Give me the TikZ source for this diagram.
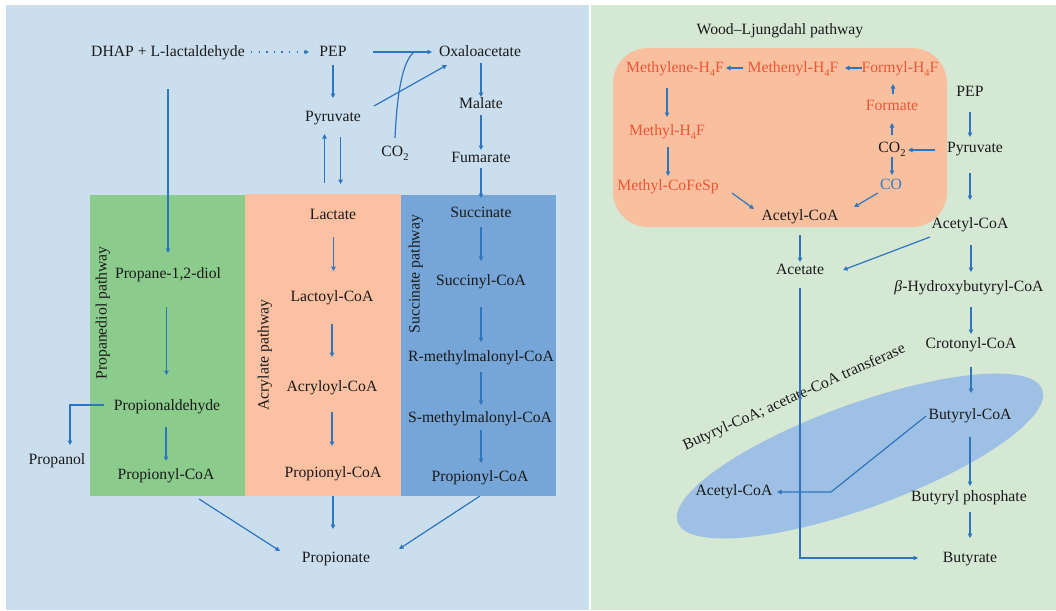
\documentclass[tikz,border=0pt]{standalone}
\usepackage{fontspec}
\setmainfont{Liberation Serif}
\usetikzlibrary{calc,arrows.meta}
\definecolor{leftbg}{HTML}{CBDEEE}
\definecolor{rightbg}{HTML}{D5E8D4}
\definecolor{greenbox}{HTML}{8BCB8C}
\definecolor{peachbox}{HTML}{FCC1A2}
\definecolor{bluebox}{HTML}{76A5D7}
\definecolor{wlbox}{HTML}{F9C0A0}
\definecolor{ellcol}{HTML}{9DC0E4}
\definecolor{arrowblue}{HTML}{2E75BF}
\definecolor{wlred}{HTML}{EE5535}
\definecolor{coblue}{HTML}{2E7BC4}
\definecolor{txtblack}{HTML}{1A1A1A}
\newcommand\mysubs[1]{\raisebox{-3.5pt}{\fontsize{10.5}{10.5}\selectfont #1}}
\begin{document}
\begin{tikzpicture}[x=1pt,y=-1pt,
  txt/.style={font=\fontsize{15.7}{18}\selectfont, inner sep=0pt, text height=11.5pt, text depth=2.5pt, text=txtblack},
  redtxt/.style={txt, text=wlred},
  arr/.style={draw=arrowblue, line width=1.2pt, -{Triangle[length=4.5pt,width=4.5pt]}},
  dotarr/.style={arr, dash pattern=on 1.3pt off 6.3pt},
  ln/.style={draw=arrowblue, line width=1.2pt}]
\useasboundingbox (0,0) rectangle (1056,610);
% backgrounds
\fill[leftbg] (6,5) rectangle (589,610);
\fill[rightbg] (590.5,5) rectangle (1056,610);
\fill[greenbox] (90,195) rectangle (245,496);
\fill[peachbox] (245,194) rectangle (401,496);
\fill[bluebox] (401,195) rectangle (556,496);
\fill[wlbox, rounded corners=35pt] (613,48) rectangle (947,227);
\fill[ellcol, rotate around={20:(860,456)}] (860,456) ellipse [x radius=194, y radius=52];

% left panel nodes
\node[txt] (dhap) at (168,52) {DHAP + L-lactaldehyde};
\node[txt] (pep) at (333,52) {PEP};
\node[txt] (oxa) at (480,52) {Oxaloacetate};
\node[txt] (pyr) at (333,117) {Pyruvate};
\node[txt] (co2a) at (395,152) {CO\mysubs{2}};
\node[txt] (mal) at (481,104) {Malate};
\node[txt] (fum) at (481,158) {Fumarate};
\node[txt] (pdiol) at (168,274) {Propane-1,2-diol};
\node[txt, rotate=90] (ppath) at (102,313) {Propanediol pathway};
\node[txt] (pald) at (167,406) {Propionaldehyde};
\node[txt] (propanol) at (57,460) {Propanol};
\node[txt] (ppcoa1) at (166,475) {Propionyl-CoA};
\node[txt] (lac) at (333,215) {Lactate};
\node[txt] (lacoa) at (332,297) {Lactoyl-CoA};
\node[txt] (acry) at (332,387) {Acryloyl-CoA};
\node[txt] (ppcoa2) at (333,473) {Propionyl-CoA};
\node[txt, rotate=90] (apath) at (264,355) {Acrylate pathway};
\node[txt] (succ) at (481,213) {Succinate};
\node[txt, rotate=90] (spath) at (415,274) {Succinate pathway};
\node[txt] (succoa) at (481,281) {Succinyl-CoA};
\node[txt] (rmm) at (481,357) {R-methylmalonyl-CoA};
\node[txt] (smm) at (480,418) {S-methylmalonyl-CoA};
\node[txt] (ppcoa3) at (480,477) {Propionyl-CoA};
\node[txt] (propionate) at (336,558) {Propionate};

% right panel nodes
\node[txt] (wltitle) at (780,30) {Wood–Ljungdahl pathway};
\node[redtxt] (methylene) at (675,68) {Methylene-H\mysubs{4}F};
\node[redtxt] (methenyl) at (793,68) {Methenyl-H\mysubs{4}F};
\node[redtxt] (formyl) at (900,68) {Formyl-H\mysubs{4}F};
\node[redtxt] (formate) at (892,106) {Formate};
\node[txt] (co2b) at (892,148) {CO\mysubs{2}};
\node[txt] (pyr2) at (975,148) {Pyruvate};
\node[txt] (pep2) at (970,92) {PEP};
\node[txt, text=coblue] (co) at (891,185) {CO};
\node[txt] (acoaC) at (800,216) {Acetyl-CoA};
\node[redtxt] (mh4f) at (667,131) {Methyl-H\mysubs{4}F};
\node[redtxt] (mcofesp) at (668,186) {Methyl-CoFeSp};
\node[txt] (acoaR) at (970,224) {Acetyl-CoA};
\node[txt] (acetate) at (800,270) {Acetate};
\node[txt] (hbcoa) at (969,287) {{\itshape β}-Hydroxybutyryl-CoA};
\node[txt] (crot) at (971,344) {Crotonyl-CoA};
\node[txt] (butcoa) at (970,415) {Butyryl-CoA};
\node[txt] (acoaE) at (734,491) {Acetyl-CoA};
\node[txt] (butp) at (969,497) {Butyryl phosphate};
\node[txt] (butyrate) at (970,558) {Butyrate};
\node[txt, rotate=24] (trans) at (794,397) {Butyryl-CoA; acetate-CoA transferase};

% left panel connectors
\draw[dotarr] ($(dhap)+(83,0)$) -- ($(pep)+(-24,0)$);
\draw[arr] ($(pep)+(40,0)$) -- ($(oxa)+(-48,0)$);
\draw[ln] ($(co2a)+(0,-14)$) .. controls ($(co2a)+(2,-57)$) and ($(co2a)+(7,-90)$) .. ($(oxa)+(-66,0)$);
\draw[arr] ($(pyr)+(41,-11)$) -- ($(oxa)+(-33,13)$);
\draw[arr] ($(pep)+(0,13)$) -- ($(pyr)+(0,-19)$);
\draw[arr] ($(oxa)+(1,11)$) -- ($(mal)+(0,-7)$);
\draw[arr] ($(mal)+(0,11)$) -- ($(fum)+(0,-8)$);
\draw[arr] ($(fum)+(0,10)$) -- ($(succ)+(0,-15)$);
\draw[arr] ($(dhap)+(0,37)$) -- ($(pdiol)+(0,-21)$);
\draw[arr] ($(lac)+(-8.5,-32)$) -- ($(pyr)+(-8.5,17)$);
\draw[arr] ($(pyr)+(7.6,20)$) -- ($(lac)+(7.6,-31)$);
\draw[arr] ($(pdiol)+(-1.5,33)$) -- ($(pald)+(-0.5,-31)$);
\draw[arr] ($(pald)+(-63,-1)$) -| ($(propanol)+(13,-15)$);
\draw[arr] ($(pald)+(-1,21)$) -- ($(ppcoa1)+(0,-14)$);
\draw[arr] ($(lac)+(0.5,22)$) -- ($(lacoa)+(1.5,-26)$);
\draw[arr] ($(lacoa)+(0,27)$) -- ($(acry)+(0,-30)$);
\draw[arr] ($(acry)+(0,25)$) -- ($(ppcoa2)+(-1,-27)$);
\draw[arr] ($(succ)+(0,14)$) -- ($(succoa)+(0,-20)$);
\draw[arr] ($(succoa)+(0,26)$) -- ($(rmm)+(0,-15)$);
\draw[arr] ($(rmm)+(0,15)$) -- ($(smm)+(1,-13)$);
\draw[arr] ($(smm)+(1,12)$) -- ($(ppcoa3)+(1,-14)$);
\draw[arr] ($(ppcoa1)+(33,24)$) -- ($(propionate)+(-56,-7)$);
\draw[arr] ($(ppcoa2)+(0,23)$) -- ($(propionate)+(-3,-29)$);
\draw[arr] ($(ppcoa3)+(0,19)$) -- ($(propionate)+(63,-9)$);

% right panel connectors
\draw[arr] ($(methenyl)+(-50,0)$) -- ($(methylene)+(51,0)$);
\draw[arr] ($(formyl)+(-38,0)$) -- ($(methenyl)+(52,0)$);
\draw[arr] ($(formate)+(1,-12)$) -- ($(formyl)+(-7,16)$);
\draw[arr] ($(co2b)+(0,-13)$) -- ($(formate)+(0,17)$);
\draw[arr] ($(pyr2)+(-40,2)$) -- ($(co2b)+(16,2)$);
\draw[arr] ($(pep2)+(0,20)$) -- ($(pyr2)+(-5,-11)$);
\draw[arr] ($(co2b)+(0,9)$) -- ($(co)+(1,-10)$);
\draw[arr] ($(co)+(-13,8)$) -- ($(acoaC)+(54,-9)$);
\draw[arr] ($(mcofesp)+(64,7)$) -- ($(acoaC)+(-46,-7)$);
\draw[arr] ($(methylene)+(-8,20)$) -- ($(mh4f)+(0,-14)$);
\draw[arr] ($(mh4f)+(1,16)$) -- ($(mcofesp)+(0,-10)$);
\draw[arr] ($(pyr2)+(-5,25)$) -- ($(acoaR)+(0,-24)$);
\draw[arr] ($(acoaC)+(0,19)$) -- ($(acetate)+(0,-8)$);
\draw[arr] ($(acoaR)+(-40,13)$) -- ($(acetate)+(43,0)$);
\draw[arr] ($(acoaR)+(1,21)$) -- ($(hbcoa)+(2,-15)$);
\draw[arr] ($(hbcoa)+(2,20)$) -- ($(crot)+(0,-10)$);
\draw[arr] ($(crot)+(0,23)$) -- ($(butcoa)+(1,-22)$);
\draw[arr] ($(butcoa)+(-44,1)$) -- ($(acoaE)+(97,1)$) -- ($(acoaE)+(43,1)$);
\draw[arr] ($(butcoa)+(0,22)$) -- ($(butp)+(1,-11)$);
\draw[arr] ($(butp)+(1,15)$) -- ($(butyrate)+(0,-20)$);
\draw[arr] ($(acetate)+(0,18)$) -- ($(acetate)+(0,288)$) -- ($(butyrate)+(-52,0)$);
\end{tikzpicture}
\end{document}
